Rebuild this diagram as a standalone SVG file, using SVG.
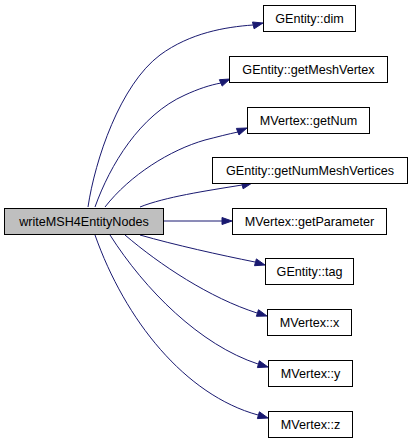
<svg xmlns="http://www.w3.org/2000/svg" width="412" height="443" viewBox="0 0 412 443">
<style>
.n rect{fill:#ffffff;stroke:#000000;stroke-width:1}
.m rect{fill:#bfbfbf;stroke:#000000;stroke-width:1}
text{font-family:"Liberation Sans",Arial,Helvetica,sans-serif;font-size:12.6px;fill:#000000;text-anchor:middle}
.e path{fill:none;stroke:#191970;stroke-width:1}
.e polygon{fill:#191970;stroke:#191970;stroke-width:1}
</style>
<rect width="412" height="443" fill="#ffffff"/>
<g id="edges" class="e">
<path d="M88,207 C95,160 120,85 160,55 C190,33 225,27 253,25"/>
<polygon points="263,23 252.5,22 254.1,28.8"/>
<path d="M95,207 C110,165 140,115 185,95 C198,89 210,85 221,83"/>
<polygon points="230,79 219.4,79.7 222.2,86.1"/>
<path d="M105,207 C130,175 170,150 205,140 C217,137 228,134 238,132"/>
<polygon points="247,128 236.4,128.4 239,135"/>
<path d="M140,207 C165,197 205,191 242,185"/>
<polygon points="252,183 241.5,182 243.1,188.8"/>
<path d="M163,221 L222,221"/>
<polygon points="232,221 222,217.5 222,224.5"/>
<path d="M140,235 C175,245 220,255 255,262"/>
<polygon points="265,265 256.4,258.9 254.5,265.7"/>
<path d="M125,235 C160,265 210,298 257,313"/>
<polygon points="267,316 258.5,309.7 256.4,316.3"/>
<path d="M110,235 C145,290 200,345 258,364"/>
<polygon points="268,367 259.4,360.8 257.4,367.6"/>
<path d="M95,235 C125,320 185,395 258,415"/>
<polygon points="268,418 259.4,411.8 257.4,418.6"/>
</g>
<g id="writeMSH4EntityNodes" class="m"><rect x="4.5" y="208.5" width="159" height="26"/><text x="84" y="226">writeMSH4EntityNodes</text></g>
<g id="GEntity_dim" class="n"><rect x="263.5" y="5.5" width="92" height="26"/><text x="309.5" y="23">GEntity::dim</text></g>
<g id="GEntity_getMeshVertex" class="n"><rect x="229.5" y="56.5" width="158" height="26"/><text x="308.5" y="74">GEntity::getMeshVertex</text></g>
<g id="MVertex_getNum" class="n"><rect x="247.5" y="107.5" width="122" height="26"/><text x="308.5" y="125">MVertex::getNum</text></g>
<g id="GEntity_getNumMeshVertices" class="n"><rect x="212.5" y="157.5" width="195" height="26"/><text x="310" y="175">GEntity::getNumMeshVertices</text></g>
<g id="MVertex_getParameter" class="n"><rect x="232.5" y="208.5" width="154" height="26"/><text x="309.5" y="226">MVertex::getParameter</text></g>
<g id="GEntity_tag" class="n"><rect x="265.5" y="258.5" width="88" height="26"/><text x="309.5" y="276">GEntity::tag</text></g>
<g id="MVertex_x" class="n"><rect x="267.5" y="309.5" width="84" height="26"/><text x="309.5" y="327">MVertex::x</text></g>
<g id="MVertex_y" class="n"><rect x="268.5" y="360.5" width="84" height="26"/><text x="310.5" y="378">MVertex::y</text></g>
<g id="MVertex_z" class="n"><rect x="268.5" y="411.5" width="84" height="26"/><text x="310.5" y="429">MVertex::z</text></g>
</svg>
